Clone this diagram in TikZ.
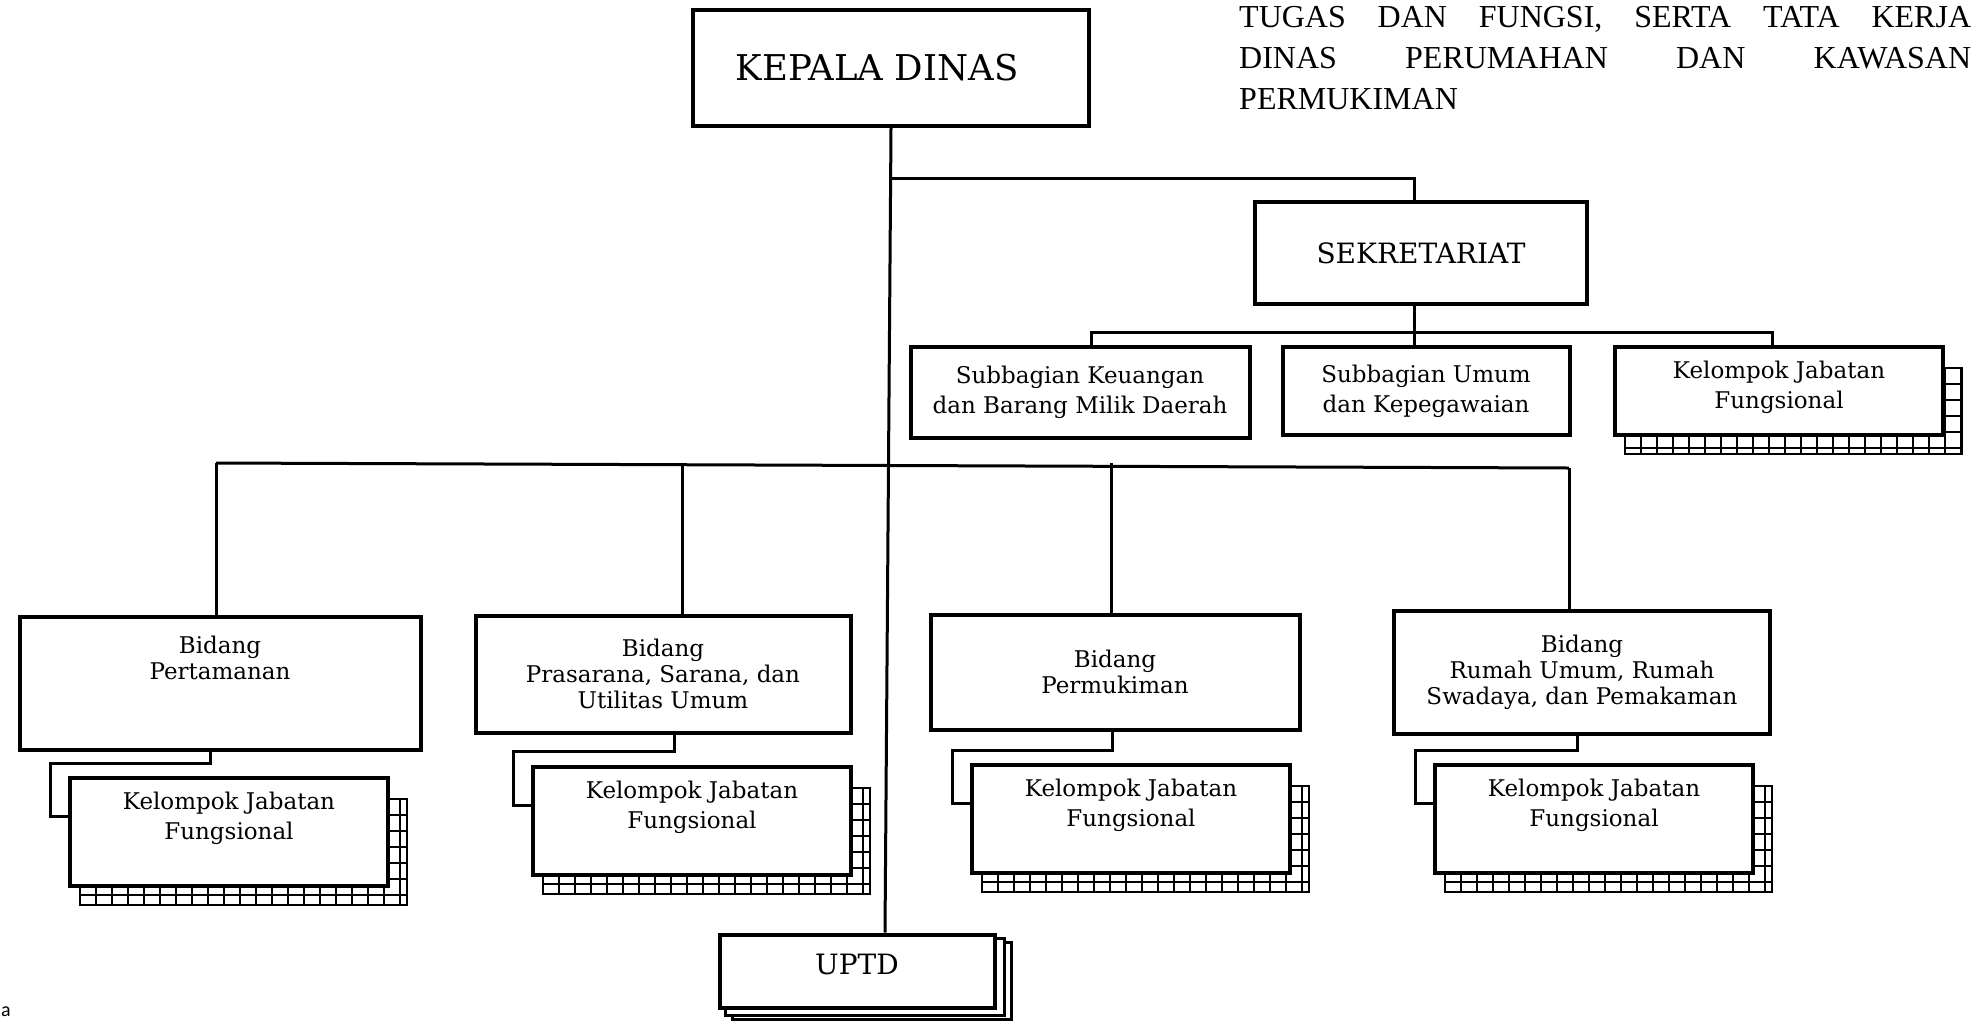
\documentclass[tikz,border=0pt]{standalone}
\usepackage{fontspec}
\setmainfont{DejaVu Serif}
\newfontfamily\titlefont{Liberation Serif}
\newfontfamily\notefont{Carlito}
\usetikzlibrary{positioning}
\usetikzlibrary{calc}
\usetikzlibrary{backgrounds}

\newcommand{\boxfont}{\fontsize{23}{30}\selectfont}
\newcommand{\bidfont}{\fontsize{23}{26}\selectfont}

% grid shadow behind a Kelompok Jabatan Fungsional box
\newcommand{\gridshadow}[1]{%
  \begin{scope}
    \clip ($(#1.north west)+(12,23)$) rectangle ($(#1.south east)+(17,17)$);
    \fill[white] ($(#1.north west)+(12,23)$) rectangle ($(#1.south east)+(17,17)$);
    \foreach \k in {0,...,22}
      \draw[line width=1.6pt] ($(#1.north west)+(12+16*\k,0)$) -- ++(0,200);
    \foreach \k in {0,...,9}
      \draw[line width=1.6pt] ($(#1.north west)+(0,23+16*\k)$) -- ++(400,0);
  \end{scope}
  \draw[line width=2.6pt] ($(#1.north west)+(12,23)$) rectangle ($(#1.south east)+(17,17)$);
}

\tikzset{
  unit/.style={draw, line width=4pt, fill=white, inner sep=0pt, align=center, font=\boxfont},
  bidang/.style={unit, font=\bidfont},
  link/.style={line width=3pt},
  note/.style={align=center, font=\boxfont},
  kjf/.style={unit, minimum width=318pt, minimum height=108pt,
    label={[note, yshift=#1]center:{Kelompok Jabatan\\Fungsional}}},
  kjf/.default=14pt,
}

\begin{document}
\begin{tikzpicture}[x=1pt, y=-1pt]
  \useasboundingbox (0,0) rectangle (1973,1021);

  \node[anchor=north west, inner sep=0pt, align=left,
      font=\titlefont\fontsize{32}{41}\selectfont] (title) at (1239,6)
      {\makebox[732pt][s]{TUGAS DAN FUNGSI, SERTA TATA KERJA}\\
       \makebox[732pt][s]{DINAS PERUMAHAN DAN KAWASAN}\\
       PERMUKIMAN};

  % head and secretariat
  \node[unit, minimum width=396pt, minimum height=116pt,
      label={[font=\fontsize{35.5}{40}\selectfont, xshift=-14pt]center:KEPALA DINAS}] (kepala) at (891,68) {};
  \node[unit, minimum width=332pt, minimum height=102pt, font=\fontsize{28}{30}\selectfont] (sek) at (1421,253) {SEKRETARIAT};
  \node[unit, minimum width=339pt, minimum height=91pt] (keu) at (1080,392) {Subbagian Keuangan\\dan Barang Milik Daerah};
  \node[unit, minimum width=287pt, minimum height=88pt] (umum) at (1426,391) {Subbagian Umum\\dan Kepegawaian};
  \node[kjf=4pt, minimum width=328pt, minimum height=88pt] (kjfS) at (1779,391) {};

  % bidang
  \node[bidang, minimum width=401pt, minimum height=133pt,
      label={[align=center, font=\bidfont, yshift=25pt]center:{Bidang\\Pertamanan}}] (bidA) at (220,683) {};
  \node[bidang, minimum width=375pt, minimum height=117pt] (bidB) at (663,674) {Bidang\\Prasarana, Sarana, dan\\Utilitas Umum};
  \node[bidang, minimum width=369pt, minimum height=115pt] (bidC) at (1115,672) {Bidang\\Permukiman};
  \node[bidang, minimum width=376pt, minimum height=123pt] (bidD) at (1582,672) {Bidang\\Rumah Umum, Rumah\\Swadaya, dan Pemakaman};

  \node[kjf] (kjfA) at (229,832) {};
  \node[kjf] (kjfB) at (692,821) {};
  \node[kjf] (kjfC) at (1131,819) {};
  \node[kjf] (kjfD) at (1594,819) {};

  \node[unit, minimum width=275pt, minimum height=73pt,
      label={[font=\fontsize{28}{30}\selectfont, yshift=7pt]center:UPTD}] (uptd) at (857,971) {};

  \node[anchor=base west, inner sep=0pt, font=\notefont\fontsize{20}{24}\selectfont] (mark) at (1,1016) {a};

  \begin{scope}[on background layer]
    \fill[white] (0,0) rectangle (1973,1021);
    \foreach \s in {kjfS,kjfA,kjfB,kjfC,kjfD}
      \gridshadow{\s};
    \foreach \d/\e in {15/10,8/6}
      \draw[line width=3pt, fill=white] ($(uptd.north west)+(\d,\e)$) rectangle ($(uptd.south east)+(\d,\e)$);
  \end{scope}

  % connectors
  \coordinate (sekjoint) at (892,178);
  \coordinate (barL) at (216,463);
  \coordinate (barR) at (1569,468);
  \draw[link] (kepala.south) -- ([xshift=28pt]uptd.north);
  \draw[link] (sekjoint) -| ([xshift=-7pt]sek.north);
  \draw[link] ([xshift=-7pt]sek.south) -- ([xshift=-7pt]sek.south |- umum.north);
  \draw[link] ([xshift=11pt]keu.north) -- ++(0,-12) -| ([xshift=-7pt]kjfS.north);
  \draw[link] (barL) -- (barR);
  \draw[link] (barL) -- (barL |- bidA.north);
  \draw[link] ([xshift=19pt]bidB.north) -- ([xshift=19pt]bidB.north |- barL);
  \draw[link] ([xshift=-4pt]bidC.north) -- ([xshift=-4pt]bidC.north |- barL);
  \draw[link] (barR) -- (barR |- bidD.north);
  \foreach \b/\k/\dx/\dy in {bidA/kjfA/-10/12, bidB/kjfB/11/17, bidC/kjfC/-3/19, bidD/kjfD/-5/15}
    \draw[link] ([xshift=\dx pt]\b.south) -- ++(0,\dy) -| ($(\k.north west)+(-18,40)$) -- ++(18,0);
\end{tikzpicture}
\end{document}
